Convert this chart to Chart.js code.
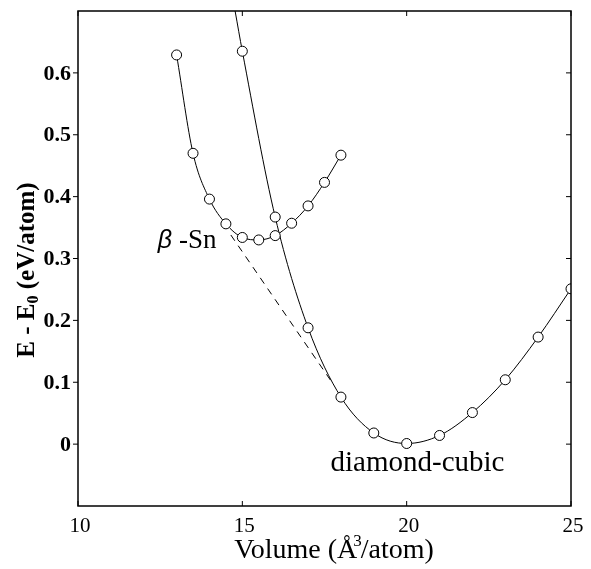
<!DOCTYPE html>
<html>
<head>
<meta charset="utf-8">
<script src="https://cdn.jsdelivr.net/npm/chart.js@4.4.0/dist/chart.umd.min.js"></script>
<style>
  html, body { margin: 0; padding: 0; background: #fff; }
</style>
</head>
<body>
<canvas id="eos" width="591" height="569"></canvas>
<script>
// β-Sn points (volume, energy)
const betaV = [13, 13.5, 14, 14.5, 15, 15.5, 16, 16.5, 17, 17.5, 18];
const betaE = [0.629, 0.470, 0.396, 0.356, 0.334, 0.330, 0.337, 0.357, 0.385, 0.423, 0.467];

// diamond-cubic points
const diaV = [15, 16, 17, 18, 19, 20, 21, 22, 23, 24, 25];
const diaE = [0.635, 0.367, 0.188, 0.076, 0.018, 0.001, 0.014, 0.051, 0.104, 0.173, 0.251];

// where the diamond fit leaves the top of the frame
const diaTopV = [14.78];
const diaTopE = [0.70];

// common tangent (dashed)
const tanV = [14.65, 17.7];
const tanE = [0.338, 0.102];

const xTicks = [10, 15, 20, 25];
const yTicks = [0, 0.1, 0.2, 0.3, 0.4, 0.5, 0.6];
const yTickLabels = ['0', '0.1', '0.2', '0.3', '0.4', '0.5', '0.6'];

const pts = (xs, ys) => xs.map((x, i) => ({ x: x, y: ys[i] }));

const serif = '"Liberation Serif", "DejaVu Serif", serif';

const framePlugin = {
    id: 'frame',
    afterDraw(chart) {
        const ctx = chart.ctx;
        const a = chart.chartArea;
        const xs = chart.scales.x, ys = chart.scales.y;
        ctx.save();
        ctx.strokeStyle = '#000';
        ctx.lineWidth = 1.5;
        ctx.strokeRect(a.left, a.top, a.right - a.left, a.bottom - a.top);

        // ticks
        ctx.lineWidth = 1;
        ctx.beginPath();
        xTicks.forEach(v => {
            const px = xs.getPixelForValue(v);
            ctx.moveTo(px, a.bottom); ctx.lineTo(px, a.bottom - 5);
            ctx.moveTo(px, a.top); ctx.lineTo(px, a.top + 5);
        });
        yTicks.forEach(v => {
            const py = ys.getPixelForValue(v);
            ctx.moveTo(a.left - 5, py); ctx.lineTo(a.left, py);
            ctx.moveTo(a.right, py); ctx.lineTo(a.right - 5, py);
        });
        ctx.stroke();

        // tick labels
        ctx.fillStyle = '#000';
        ctx.font = 'bold 22px ' + serif;
        ctx.textAlign = 'right';
        ctx.textBaseline = 'middle';
        yTicks.forEach((v, i) => {
            ctx.fillText(yTickLabels[i], a.left - 7, ys.getPixelForValue(v) + 1);
        });
        ctx.font = '21px ' + serif;
        ctx.textAlign = 'center';
        ctx.textBaseline = 'top';
        xTicks.forEach(v => {
            ctx.fillText(String(v), xs.getPixelForValue(v) + 2, a.bottom + 10);
        });

        // x title: Volume (Å³/atom)
        ctx.textBaseline = 'alphabetic';
        ctx.textAlign = 'left';
        const big = '28px ' + serif, sup = '17px ' + serif;
        const p1 = 'Volume (Å', p3 = '/atom)';
        ctx.font = big;
        const w1 = ctx.measureText(p1).width, w3 = ctx.measureText(p3).width;
        ctx.font = sup;
        const w2 = ctx.measureText('3').width;
        let x0 = 334 - (w1 + w2 - 5 + w3) / 2;
        const by = 558;
        ctx.font = big; ctx.fillText(p1, x0, by);
        ctx.font = sup; ctx.fillText('3', x0 + w1 - 4, by - 12);
        ctx.font = big; ctx.fillText(p3, x0 + w1 + w2 - 5, by);

        // y title: E - E0 (eV/atom)
        ctx.save();
        ctx.translate(34, 270);
        ctx.rotate(-Math.PI / 2);
        const yb = 'bold 25px ' + serif, ys0 = 'bold 16px ' + serif;
        const q1 = 'E - E', q3 = ' (eV/atom)';
        ctx.font = yb;
        const v1 = ctx.measureText(q1).width, v3 = ctx.measureText(q3).width;
        ctx.font = ys0;
        const v2 = ctx.measureText('0').width;
        let s0 = -(v1 + v2 + v3) / 2;
        ctx.font = yb; ctx.fillText(q1, s0, 0);
        ctx.font = ys0; ctx.fillText('0', s0 + v1, 4);
        ctx.font = yb; ctx.fillText(q3, s0 + v1 + v2, 0);
        ctx.restore();

        // phase labels
        let lx = xs.getPixelForValue(12.43), ly = ys.getPixelForValue(0.317);
        ctx.font = 'italic 25px "Liberation Sans", Arial, sans-serif';
        ctx.fillText('β', lx, ly);
        const bw = ctx.measureText('β').width;
        ctx.font = '27px ' + serif;
        ctx.fillText(' -Sn', lx + bw, ly);

        ctx.font = '29px ' + serif;
        ctx.textAlign = 'center';
        ctx.fillText('diamond-cubic', xs.getPixelForValue(20.33), ys.getPixelForValue(-0.0435));
        ctx.restore();
    }
};

const lineStyle = {
    showLine: true,
    borderColor: '#000',
    borderWidth: 1,
    pointRadius: 0,
    cubicInterpolationMode: 'monotone',
    order: 2
};
const markStyle = {
    showLine: false,
    pointRadius: 5,
    pointBorderWidth: 1,
    pointBorderColor: '#000',
    pointBackgroundColor: '#fff',
    order: 1
};

new Chart(document.getElementById('eos'), {
    type: 'scatter',
    data: {
        datasets: [
            Object.assign({ label: 'β-Sn fit', data: pts(betaV, betaE) }, lineStyle),
            Object.assign({ label: 'diamond fit', data: pts(diaTopV.concat(diaV), diaTopE.concat(diaE)) }, lineStyle),
            {
                label: 'tangent',
                data: pts(tanV, tanE),
                showLine: true,
                borderColor: '#000',
                borderWidth: 1,
                borderDash: [7, 6],
                pointRadius: 0,
                order: 3
            },
            Object.assign({ label: 'β-Sn', data: pts(betaV, betaE) }, markStyle),
            Object.assign({ label: 'diamond-cubic', data: pts(diaV, diaE) }, markStyle)
        ]
    },
    options: {
        responsive: false,
        animation: false,
        layout: { padding: { left: 78, right: 20, top: 11, bottom: 63 } },
        scales: {
            x: { type: 'linear', min: 10, max: 25, display: false },
            y: { type: 'linear', min: -0.1, max: 0.7, display: false }
        },
        plugins: {
            legend: { display: false },
            tooltip: { enabled: false }
        }
    },
    plugins: [framePlugin]
});
</script>
</body>
</html>
